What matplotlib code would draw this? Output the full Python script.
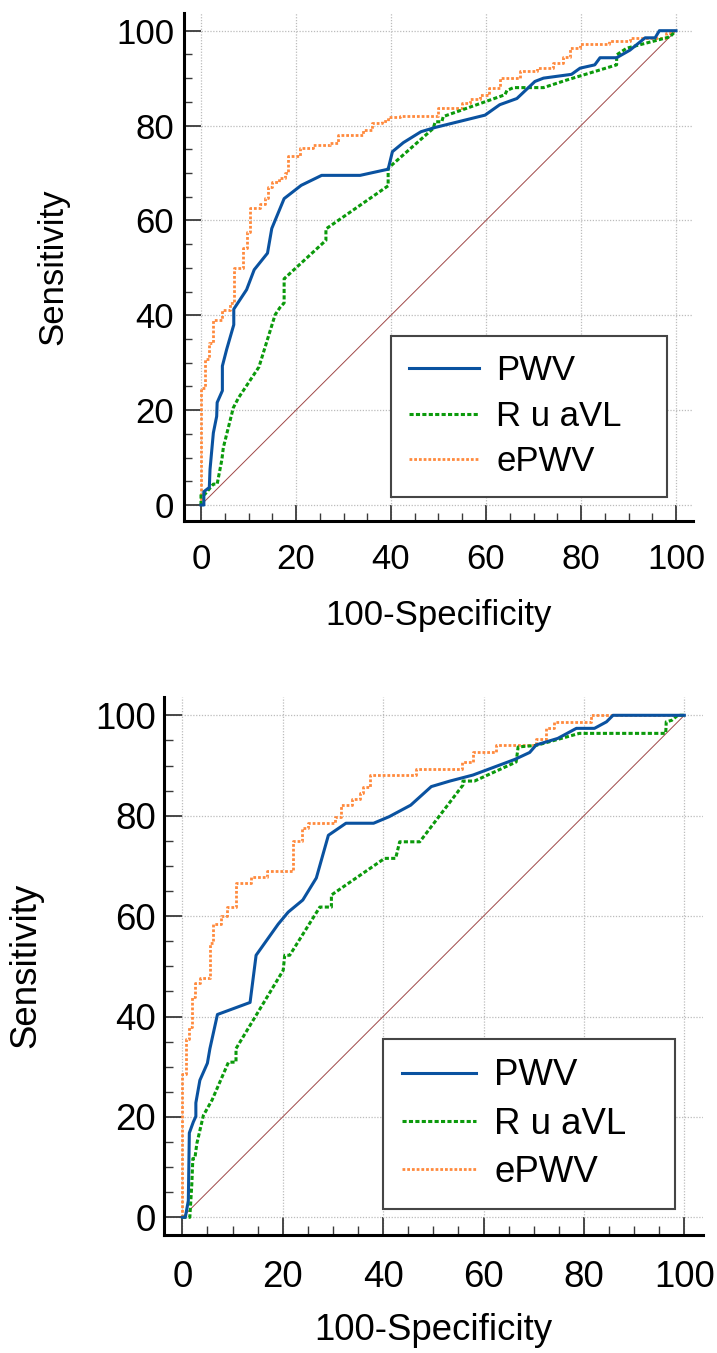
import matplotlib
matplotlib.use('Agg')
import matplotlib.pyplot as plt
from matplotlib.ticker import MultipleLocator

plt.rcParams['font.family'] = ['Liberation Sans', 'DejaVu Sans']

# ---------------- data (top panel) ----------------
top_pwv_x = [0, 0.6, 0.6, 1.75, 1.9, 2.6, 3.3, 3.4, 4.5, 4.5, 5.4, 6.9, 6.9, 9.6, 11.2, 14.0, 14.9, 17.5,
             21.1, 25.4, 33.5, 39.4, 40.3, 42.6, 46.3, 49.3, 59.8, 62.9, 66.5, 70.3, 72.1, 78.0, 79.8,
             82.9, 84.0, 87.5, 90.3, 93.5, 95.6, 96.5, 100]
top_pwv_y = [0, 0, 2.8, 3.7, 7.5, 15.2, 18.7, 21.6, 24.1, 29.3, 32.8, 38.0, 41.3, 45.4, 49.6, 53.1, 58.3, 64.6,
             67.4, 69.5, 69.5, 70.8, 74.5, 76.4, 78.7, 79.6, 82.2, 84.4, 85.7, 89.3, 90.0, 90.8, 92.1,
             92.8, 94.3, 94.3, 95.9, 98.5, 98.5, 100, 100]

top_ravl_x = [0, 0, 0.8, 2.6, 3.4, 4.4, 4.7, 6.8, 7.9, 12.2, 15.6, 16.6, 17.5, 17.5, 26.3, 26.3, 39.4, 39.4,
              48.9, 49.3, 50.7, 51.0, 64.0, 64.4, 65.8, 72.1, 77.0, 87.5, 87.5, 89.6, 98.7, 100]
top_ravl_y = [0, 2.25, 2.25, 4.4, 4.4, 9.6, 12.1, 20.5, 22.6, 29.1, 40.1, 41.6, 42.6, 47.7, 55.8, 58.2, 67.3, 71.0,
              79.4, 80.8, 80.8, 81.9, 86.5, 87.4, 88.0, 88.0, 89.6, 92.8, 94.9, 96.3, 98.7, 100]

top_epwv_x = [0, 0, 0.8, 0.8, 1.7, 1.7, 2.6, 2.6, 4.4, 4.4, 6.2, 6.2, 6.9, 6.9, 8.8, 8.8, 9.6, 9.6, 10.4, 10.4,
              12.4, 12.4, 13.5, 13.5, 14.0, 14.0, 14.9, 14.9, 16.5, 16.5, 17.6, 17.6, 18.4, 18.4, 20.8, 20.8,
              23.6, 23.6, 27.2, 27.2, 28.9, 28.9, 34.0, 34.0, 36.0, 36.0, 38.0, 38.0, 39.4, 39.4, 41.9, 41.9,
              50.0, 50.0, 54.9, 54.9, 56.6, 56.6, 58.7, 58.7, 60.7, 60.7, 62.9, 62.9, 67.2, 67.2, 70.7, 70.7,
              74.0, 74.0, 76.3, 76.3, 77.7, 77.7, 79.8, 79.8, 85.8, 85.8, 90.3, 90.3, 98.0, 98.0, 99.2, 99.2, 100]
top_epwv_y = [0, 24.7, 24.7, 30.7, 30.7, 34.2, 34.2, 39.1, 39.1, 41.2, 41.2, 42.6, 42.6, 50.0, 50.0, 54.2, 54.2,
              57.6, 57.6, 62.6, 62.6, 63.5, 63.5, 64.7, 64.7, 67.1, 67.1, 68.2, 68.2, 68.9, 68.9, 69.9, 69.9,
              73.6, 73.6, 75.2, 75.2, 75.8, 75.8, 76.4, 76.4, 78.0, 78.0, 79.0, 79.0, 80.5, 80.5, 81.0, 81.0,
              81.7, 81.7, 82.0, 82.0, 83.6, 83.6, 84.8, 84.8, 85.7, 85.7, 86.4, 86.4, 87.9, 87.9, 90.0, 90.0,
              91.5, 91.5, 92.2, 92.2, 93.1, 93.1, 94.5, 94.5, 96.3, 96.3, 97.3, 97.3, 97.8, 97.8, 98.5, 98.5,
              99.6, 99.6, 100, 100]

# ---------------- data (bottom panel) ----------------
bot_pwv_x = [0, 0.6, 1.2, 1.4, 2.2, 2.7, 2.7, 3.5, 5.0, 5.5, 7.0, 13.5, 14.7, 19.1, 21.1, 24.0, 26.7, 29.1,
             32.6, 38.1, 41.2, 45.5, 49.6, 53.3, 57.9, 66.2, 69.2, 70.5, 74.8, 78.5, 82.1, 84.5, 85.8, 100]
bot_pwv_y = [0, 0, 3.3, 16.8, 19.0, 20.1, 22.8, 27.3, 30.7, 33.6, 40.4, 42.8, 52.2, 58.4, 60.8, 63.2, 67.6, 76.1,
             78.5, 78.5, 79.8, 82.1, 85.8, 86.9, 88.1, 91.2, 92.6, 94.1, 95.4, 97.4, 97.4, 98.7, 100, 100]

bot_ravl_x = [0, 1.5, 1.9, 2.1, 2.5, 2.9, 4.2, 5.9, 9.2, 10.7, 10.7, 14.5, 20.1, 20.4, 21.4, 27.4, 29.7, 29.7,
              40.3, 42.5, 43.3, 47.3, 55.9, 55.9, 58.2, 66.5, 66.9, 70.5, 79.1, 96.3, 96.4, 97.5, 98.7, 100]
bot_ravl_y = [0, 0, 6.7, 11.7, 11.7, 14.7, 20.3, 23.3, 30.9, 30.9, 33.6, 39.9, 49.2, 52.2, 52.2, 61.8, 61.8, 64.2,
              71.5, 71.5, 74.8, 74.8, 86.1, 86.9, 86.9, 90.7, 93.7, 94.0, 96.4, 96.4, 98.7, 99.0, 100, 100]

bot_epwv_x = [0, 0, 0.7, 0.7, 1.4, 1.4, 2.0, 2.0, 2.6, 2.6, 3.5, 3.5, 5.6, 5.6, 6.2, 6.2, 7.8, 7.8, 9.0, 9.0,
              10.7, 10.7, 13.6, 13.6, 16.9, 16.9, 22.0, 22.0, 23.9, 23.9, 25.0, 25.0, 30.4, 30.4, 31.6, 31.6,
              33.8, 33.8, 35.3, 35.3, 36.0, 36.0, 37.4, 37.4, 46.6, 46.6, 55.8, 55.8, 58.0, 58.0, 62.4, 62.4,
              70.5, 70.5, 72.5, 72.5, 74.0, 74.0, 81.5, 81.5, 100]
bot_epwv_y = [0, 28.6, 28.6, 35.6, 35.6, 37.9, 37.9, 43.9, 43.9, 46.6, 46.6, 47.6, 47.6, 54.7, 54.7, 58.5, 58.5,
              60.0, 60.0, 61.8, 61.8, 66.6, 66.6, 67.8, 67.8, 68.9, 68.9, 75.0, 75.0, 77.5, 77.5, 78.6, 78.6,
              79.8, 79.8, 82.1, 82.1, 83.4, 83.4, 84.6, 84.6, 85.8, 85.8, 88.1, 88.1, 89.3, 89.3, 90.6, 90.6,
              92.7, 92.7, 94.0, 94.0, 95.2, 95.2, 97.4, 97.4, 98.7, 98.7, 100, 100]

series_labels = ["PWV", "R u aVL", "ePWV"]
major_ticks = [0, 20, 40, 60, 80, 100]
diag = [0, 100]

# ---------------- layout (pixels) ----------------
W, H = 717, 1353
fig = plt.figure(figsize=(W / 100, H / 100), dpi=100)

panels = [
    dict(box=(184, 693, 13, 521), x0=201.0, x100=676.0, y0=505.0, y100=30.7, fs=25.0,
         leg=(391, 667, 336), xlab_y=616, ylab_x=53, tlen=16.5, mlen=8, ypad=7.0, xpad=16.0,
         data=[(top_pwv_x, top_pwv_y), (top_ravl_x, top_ravl_y), (top_epwv_x, top_epwv_y)]),
    dict(box=(164, 703, 696.7, 1235), x0=182.3, x100=684.3, y0=1217.3, y100=715.3, fs=26.4,
         leg=(383, 675, 1039), xlab_y=1330, ylab_x=26, tlen=17.7, mlen=9, ypad=6.0, xpad=18.0,
         data=[(bot_pwv_x, bot_pwv_y), (bot_ravl_x, bot_ravl_y), (bot_epwv_x, bot_epwv_y)]),
]

colors = ['#0a52a0', '#0b9a0b', '#ff8a3d']
PX = 72 / 100  # points per pixel

for p in panels:
    L, R, T, B = p['box']
    ax = fig.add_axes([L / W, 1 - B / H, (R - L) / W, (B - T) / H])
    sx = (p['x100'] - p['x0']) / 100.0
    sy = (p['y0'] - p['y100']) / 100.0
    ax.set_xlim((L - p['x0']) / sx, (R - p['x0']) / sx)
    ax.set_ylim((p['y0'] - B) / sy, (p['y0'] - T) / sy)

    ax.grid(True, which='major', color='#bcbcbc', linestyle=(0, (1, 1.3)), linewidth=0.9, zorder=0)
    ax.set_axisbelow(True)

    ax.plot(diag, diag, color='#a04848', linewidth=0.7, zorder=1)

    (px, py), (gx, gy), (ox, oy) = p['data']
    lo, = ax.plot(ox, oy, color=colors[2], linewidth=2.0, linestyle=(0, (1.0, 0.7)),
                  label=series_labels[2], zorder=2, clip_on=False)
    lg, = ax.plot(gx, gy, color=colors[1], linewidth=2.2, linestyle=(0, (1.35, 0.75)),
                  label=series_labels[1], zorder=3, clip_on=False)
    lb, = ax.plot(px, py, color=colors[0], linewidth=2.2, linestyle='-',
                  label=series_labels[0], zorder=4, clip_on=False)

    for side in ('top', 'right'):
        ax.spines[side].set_visible(False)
    for side in ('left', 'bottom'):
        ax.spines[side].set_linewidth(2.2)
        ax.spines[side].set_color('black')

    ax.xaxis.set_major_locator(MultipleLocator(20))
    ax.yaxis.set_major_locator(MultipleLocator(20))
    ax.xaxis.set_minor_locator(MultipleLocator(5))
    ax.yaxis.set_minor_locator(MultipleLocator(5))
    ax.set_xticks(major_ticks)
    ax.set_yticks(major_ticks)
    ax.tick_params(which='major', direction='in', length=p['tlen'] * PX, width=1.3,
                   color='#3a3a3a', labelsize=p['fs'], labelcolor='black')
    ax.tick_params(which='minor', direction='in', length=p['mlen'] * PX, width=1.0, color='#3a3a3a')
    ax.tick_params(axis='y', which='major', pad=p['ypad'])
    ax.tick_params(axis='x', which='major', pad=p['xpad'])

    ax.set_xlabel('100-Specificity', fontsize=p['fs'], va='center')
    ax.set_ylabel('Sensitivity', fontsize=p['fs'], va='center')
    ax.xaxis.set_label_coords(0.5, (B - p['xlab_y']) / (B - T))
    ax.yaxis.set_label_coords((p['ylab_x'] - L) / (R - L), 0.5)

    lx0, lx1, ltop = p['leg']
    fx0 = (lx0 - L) / (R - L)
    fw = (lx1 - lx0) / (R - L)
    fy = (B - ltop) / (B - T)
    leg = ax.legend(handles=[lb, lg, lo], loc='upper left', bbox_to_anchor=(fx0, fy - 0.4, fw, 0.4),
                    mode='expand', borderaxespad=0, fontsize=p['fs'], handlelength=2.0,
                    handletextpad=0.5, labelspacing=0.36, borderpad=0.53, fancybox=False,
                    framealpha=1, edgecolor='#454545', frameon=True)
    leg.get_frame().set_linewidth(1.5)
    leg.set_zorder(10)

fig.savefig('out.png', dpi=100)
